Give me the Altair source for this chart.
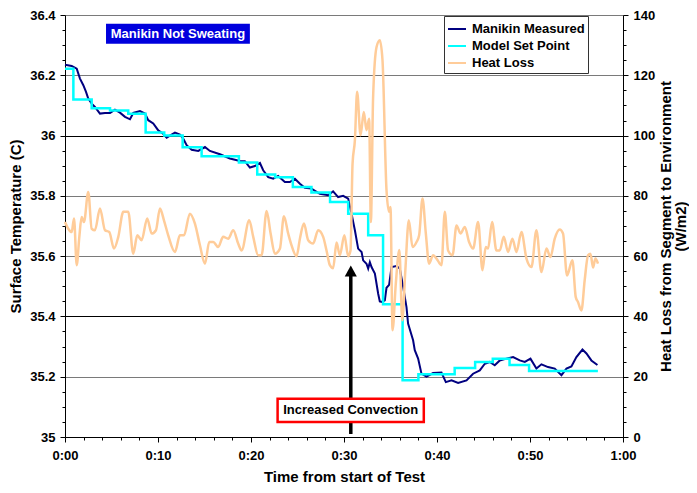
import altair as alt
import pandas as pd

# ---------------- data ----------------
meas_time = [0.0, 0.72, 1.26, 1.61, 1.97, 2.26, 2.50, 2.87, 3.22, 3.76, 4.30, 4.84, 5.37, 5.91,
             6.45, 6.99, 7.34, 8.06, 8.60, 8.95, 9.49, 10.03, 10.56, 10.93, 11.28, 11.82, 12.36,
             12.71, 13.08, 13.62, 14.33, 15.05, 15.58, 16.66, 17.73, 18.81, 19.34, 19.88, 20.42,
             20.96, 21.31, 21.85, 22.39, 22.92, 23.64, 24.18, 24.72, 25.26, 25.79, 26.51, 27.40,
             28.30, 28.83, 29.37, 29.91, 30.45, 30.81, 31.17, 31.52, 31.89, 32.06, 32.42, 32.60,
             32.78, 32.96, 33.32, 33.67, 33.85, 34.07, 34.39, 34.57, 34.85, 35.11, 35.65, 36.00,
             36.36, 36.72, 36.89, 37.43, 37.61, 37.97, 38.33, 38.87, 39.58, 40.48, 40.95, 41.56,
             42.27, 43.17, 43.88, 44.60, 45.14, 45.67, 46.21, 46.75, 47.47, 48.18, 48.90, 49.44,
             50.05, 50.69, 51.23, 51.94, 52.66, 53.38, 53.92, 54.45, 54.99, 55.64, 56.07, 56.60,
             57.25]
meas_temp = [36.235, 36.231, 36.222, 36.189, 36.167, 36.145, 36.123, 36.106, 36.095, 36.073,
             36.075, 36.075, 36.086, 36.076, 36.062, 36.054, 36.075, 36.081, 36.073, 36.051,
             36.040, 36.017, 36.006, 35.993, 36.000, 36.010, 36.003, 35.990, 35.968, 35.953,
             35.949, 35.962, 35.949, 35.938, 35.924, 35.916, 35.915, 35.894, 35.899, 35.909,
             35.885, 35.862, 35.857, 35.866, 35.846, 35.846, 35.857, 35.840, 35.827, 35.824,
             35.807, 35.802, 35.815, 35.796, 35.800, 35.791, 35.741, 35.686, 35.625, 35.614,
             35.586, 35.575, 35.559, 35.580, 35.564, 35.542, 35.476, 35.450, 35.448, 35.453,
             35.495, 35.505, 35.564, 35.567, 35.559, 35.498, 35.431, 35.376, 35.321, 35.288,
             35.260, 35.210, 35.200, 35.212, 35.214, 35.182, 35.188, 35.179, 35.188, 35.210,
             35.221, 35.243, 35.249, 35.238, 35.254, 35.260, 35.265, 35.254, 35.249, 35.260,
             35.227, 35.241, 35.232, 35.227, 35.205, 35.227, 35.234, 35.265, 35.290, 35.277,
             35.254, 35.239]

set_time = [0.0, 0.9, 2.87, 4.84, 6.8, 8.67, 10.67, 12.65, 14.69, 18.7, 20.67, 22.6, 24.5,
            26.5, 28.5, 30.45, 32.6, 34.2, 36.3, 38.0, 41.9, 44.1, 46.0, 47.8, 49.9, 57.3]
set_temp = [36.222, 36.120, 36.091, 36.083, 36.072, 36.010, 36.000, 35.961, 35.931, 35.911,
            35.871, 35.862, 35.829, 35.811, 35.780, 35.741, 35.669, 35.440, 35.188, 35.208,
            35.229, 35.249, 35.260, 35.239, 35.219, 35.219]

heat_time = [0.0, 0.35, 0.72, 0.97, 1.26, 1.54, 1.79, 2.04, 2.50, 2.87, 3.22, 3.76, 4.30, 4.76,
             5.27, 5.73, 6.27, 6.80, 7.34, 7.77, 8.24, 8.84, 9.32, 9.78, 10.21, 10.64, 11.10,
             11.82, 12.36, 12.79, 13.43, 13.97, 14.51, 15.05, 15.51, 15.94, 16.47, 17.01, 17.55,
             18.09, 18.62, 18.99, 19.81, 20.24, 20.77, 21.14, 21.68, 22.11, 22.57, 23.11, 23.54,
             24.00, 24.36, 24.90, 25.26, 25.69, 26.15, 26.68, 27.22, 27.76, 28.12, 28.48, 28.83,
             29.20, 29.55, 30.04, 30.45, 30.70, 30.92, 31.17, 31.41, 31.78, 32.13, 32.42, 32.70,
             32.89, 33.13, 33.50, 33.85, 34.14, 34.57, 34.85, 35.00, 35.22, 35.57, 35.95, 36.27,
             36.59, 36.97, 37.37, 37.80, 38.08, 38.44, 38.80, 39.15, 39.58, 39.95, 40.48, 40.84,
             41.19, 41.67, 42.10, 42.53, 42.99, 43.45, 43.88, 44.42, 44.89, 45.24, 45.49, 45.92,
             46.39, 46.75, 47.18, 47.64, 48.11, 48.54, 49.08, 49.62, 50.16, 50.69, 51.23, 51.77,
             52.20, 52.66, 53.20, 53.55, 53.98, 54.56, 54.92, 55.16, 55.53, 55.88, 56.24, 56.50,
             56.78, 57.03, 57.31]
heat_loss = [71.3, 69.1, 68.0, 72.5, 57.0, 66.4, 73.0, 71.3, 81.3, 69.1, 68.6, 75.8, 68.6, 68.0,
             62.5, 66.4, 74.7, 74.7, 60.8, 66.9, 65.3, 72.5, 67.5, 68.6, 75.8, 71.9, 66.9,
             61.4, 66.9, 66.9, 74.1, 70.8, 63.6, 57.5, 64.7, 64.7, 63.0, 66.4, 65.8,
             68.6, 64.2, 61.9, 71.9, 66.4, 60.3, 60.3, 75.0, 67.5, 60.8, 62.5, 73.2,
             67.5, 63.6, 60.0, 65.8, 70.8, 65.3, 64.2, 68.6, 66.4, 61.9, 57.0, 56.0,
             64.5, 60.3, 66.9, 60.0, 61.9, 90.7, 98.4, 114.5, 100.1, 107.8, 101.8, 105.6,
             71.3, 112.8, 129.4, 131.6, 125.0, 81.9, 74.7, 76.3, 35.4, 50.9, 62.0, 38.7,
             55.0, 71.9, 63.0, 64.7, 66.9, 79.1, 67.5, 57.5, 60.3, 59.2, 57.0, 74.7,
             61.9, 60.3, 70.2, 67.5, 69.7, 64.7, 62.5, 71.3, 55.3, 63.0, 62.5, 71.3,
             61.9, 61.9, 66.4, 61.4, 65.8, 61.4, 68.0, 59.2, 56.4, 68.6, 54.7, 62.5,
             59.7, 65.8, 68.8, 67.5, 53.6, 58.6, 46.4, 44.8, 42.0, 52.0, 60.3, 60.8,
             56.2, 59.2, 57.5]

series_names = ["Manikin Measured", "Model Set Point", "Heat Loss"]
series_colors = ["#000080", "#00FFFF", "#FFCC99"]

x_ticks = list(range(0, 61, 2))
temp_ticks = [round(35 + 0.05 * i, 2) for i in range(29)]
heat_ticks = list(range(0, 141, 5))

# annotations (data units)
note1_text = ["Manikin Not Sweating"]
note1_box = {"x1": [4.41], "x2": [19.88], "y1": [36.371], "y2": [36.305]}
note2_text = ["Increased Convection"]
note2_box = {"x1": [22.86], "x2": [38.58], "y1": [35.127], "y2": [35.050]}
arrow = {"x": [30.73], "y1": [35.01], "y2": [35.54], "tip": [35.551]}

# ---------------- chart ----------------
FONT = "Liberation Sans"
W, H = 558, 422

meas_df = pd.DataFrame({"time": meas_time, "val": meas_temp, "series": series_names[0]})
set_df = pd.DataFrame({"time": set_time, "val": set_temp, "series": series_names[1]})
heat_df = pd.DataFrame({"time": heat_time, "heat": heat_loss, "series": series_names[2]})

n1 = pd.DataFrame({**note1_box, "label": note1_text,
                   "cx": [(note1_box["x1"][0] + note1_box["x2"][0]) / 2],
                   "cy": [(note1_box["y1"][0] + note1_box["y2"][0]) / 2]})
n2 = pd.DataFrame({**note2_box, "label": note2_text,
                   "cx": [(note2_box["x1"][0] + note2_box["x2"][0]) / 2],
                   "cy": [(note2_box["y1"][0] + note2_box["y2"][0]) / 2]})
ar = pd.DataFrame(arrow)

x_major = "datum.value % 10 === 0"
x_axis = alt.Axis(
    title="Time from start of Test", values=x_ticks, grid=False,
    labelExpr=f"{x_major} ? floor(datum.value/60) + ':' + (datum.value % 60 < 10 ? '0' : '') + (datum.value % 60) : ''",
    tickSize={"condition": {"test": x_major, "value": 5}, "value": 3},
    labelFlush=False, labelOverlap=False, labelPadding=7,
    titleX=W / 2, titleY=44, titleBaseline="alphabetic",
)
x_scale = alt.Scale(domain=[0, 60], nice=False, zero=False)

t_major = "abs(datum.value*5 - round(datum.value*5)) < 0.01"
temp_axis = alt.Axis(
    title="Surface Temperature (C)", values=temp_ticks, grid=True,
    labelExpr=f"{t_major} ? format(datum.value, '~g') : ''",
    tickSize={"condition": {"test": t_major, "value": 5}, "value": 3},
    gridOpacity={"condition": {"test": t_major, "value": 1}, "value": 0},
    gridColor={"condition": {"test": "abs(datum.value-36)<0.01 || abs(datum.value-35.4)<0.01",
                             "value": "#000000"}, "value": "#7a7a7a"},
    labelOverlap=False, labelPadding=5,
    titleX=-50, titleY=H / 2, titleAngle=270, titleBaseline="middle",
)
temp_scale = alt.Scale(domain=[35, 36.4], nice=False, zero=False)

h_major = "datum.value % 20 === 0"
heat_axis = alt.Axis(
    title=["Heat Loss from Segment to Environment", "(W/m2)"], orient="right",
    values=heat_ticks, grid=False,
    labelExpr=f"{h_major} ? datum.value : ''",
    tickSize={"condition": {"test": h_major, "value": 5}, "value": 3},
    labelOverlap=False, labelPadding=5,
    titleX=42, titleY=H / 2, titleAngle=270, titleBaseline="middle", titleLineHeight=15,
)
heat_scale = alt.Scale(domain=[0, 140], nice=False, zero=False)

color = alt.Color(
    "series:N",
    scale=alt.Scale(domain=series_names, range=series_colors),
    legend=alt.Legend(
        title=None, orient="none", legendX=379, legendY=1,
        fillColor="white", strokeColor="#333333", padding=3,
        symbolType="stroke", symbolSize=324, symbolStrokeWidth=2,
        labelFont=FONT, labelFontSize=13, labelFontWeight="bold", labelColor="black",
        labelOffset=5, rowPadding=0, labelLimit=300,
    ),
)

X = alt.X("time:Q", scale=x_scale, axis=x_axis)

meas = alt.Chart(meas_df).mark_line(strokeWidth=2).encode(
    x=X, y=alt.Y("val:Q", scale=temp_scale, axis=temp_axis), color=color)
setp = alt.Chart(set_df).mark_line(strokeWidth=2.5, interpolate="step-after").encode(
    x=X, y=alt.Y("val:Q", scale=temp_scale, axis=temp_axis), color=color)

box1 = alt.Chart(n1).mark_rect(fill="#0000DD").encode(
    x=alt.X("x1:Q", scale=x_scale, axis=x_axis), x2="x2:Q",
    y=alt.Y("y1:Q", scale=temp_scale, axis=temp_axis), y2="y2:Q")
txt1 = alt.Chart(n1).mark_text(color="white", font=FONT, fontSize=13, fontWeight="bold").encode(
    x=alt.X("cx:Q", scale=x_scale, axis=x_axis),
    y=alt.Y("cy:Q", scale=temp_scale, axis=temp_axis), text="label:N")

arr = alt.Chart(ar).mark_rule(color="black", strokeWidth=3.5).encode(
    x=alt.X("x:Q", scale=x_scale, axis=x_axis),
    y=alt.Y("y1:Q", scale=temp_scale, axis=temp_axis), y2="y2:Q")
tip = alt.Chart(ar).mark_point(shape="M0,-1L1.1,1L-1.1,1Z", size=121, filled=True,
                               color="black", opacity=1).encode(
    x=alt.X("x:Q", scale=x_scale, axis=x_axis),
    y=alt.Y("tip:Q", scale=temp_scale, axis=temp_axis))

box2 = alt.Chart(n2).mark_rect(fill="white", stroke="#FF0000", strokeWidth=2.5).encode(
    x=alt.X("x1:Q", scale=x_scale, axis=x_axis), x2="x2:Q",
    y=alt.Y("y1:Q", scale=temp_scale, axis=temp_axis), y2="y2:Q")
txt2 = alt.Chart(n2).mark_text(color="black", font=FONT, fontSize=13, fontWeight="bold").encode(
    x=alt.X("cx:Q", scale=x_scale, axis=x_axis),
    y=alt.Y("cy:Q", scale=temp_scale, axis=temp_axis), text="label:N")

temp_layer = alt.layer(meas, setp, box1, txt1, arr, tip, box2, txt2)

heat = alt.Chart(heat_df).mark_line(strokeWidth=2.5, interpolate="monotone").encode(
    x=X, y=alt.Y("heat:Q", scale=heat_scale, axis=heat_axis), color=color)
heat_layer = alt.layer(heat)

chart = (
    alt.layer(temp_layer, heat_layer)
    .resolve_scale(y="independent")
    .properties(
        width=W, height=H,
        autosize=alt.AutoSizeParams(type="none"),
        padding={"left": 57, "top": 7, "right": 66, "bottom": 48},
        background="white",
    )
    .configure_view(stroke=None)
    .configure_axis(
        labelFont=FONT, labelFontSize=13, labelFontWeight="bold", labelColor="black",
        titleFont=FONT, titleFontSize=15, titleFontWeight="bold", titleColor="black",
        domainColor="black", domainWidth=1, tickColor="black", tickWidth=1,
    )
)

chart.save("out.html", embed_options={"renderer": "svg", "actions": False})
